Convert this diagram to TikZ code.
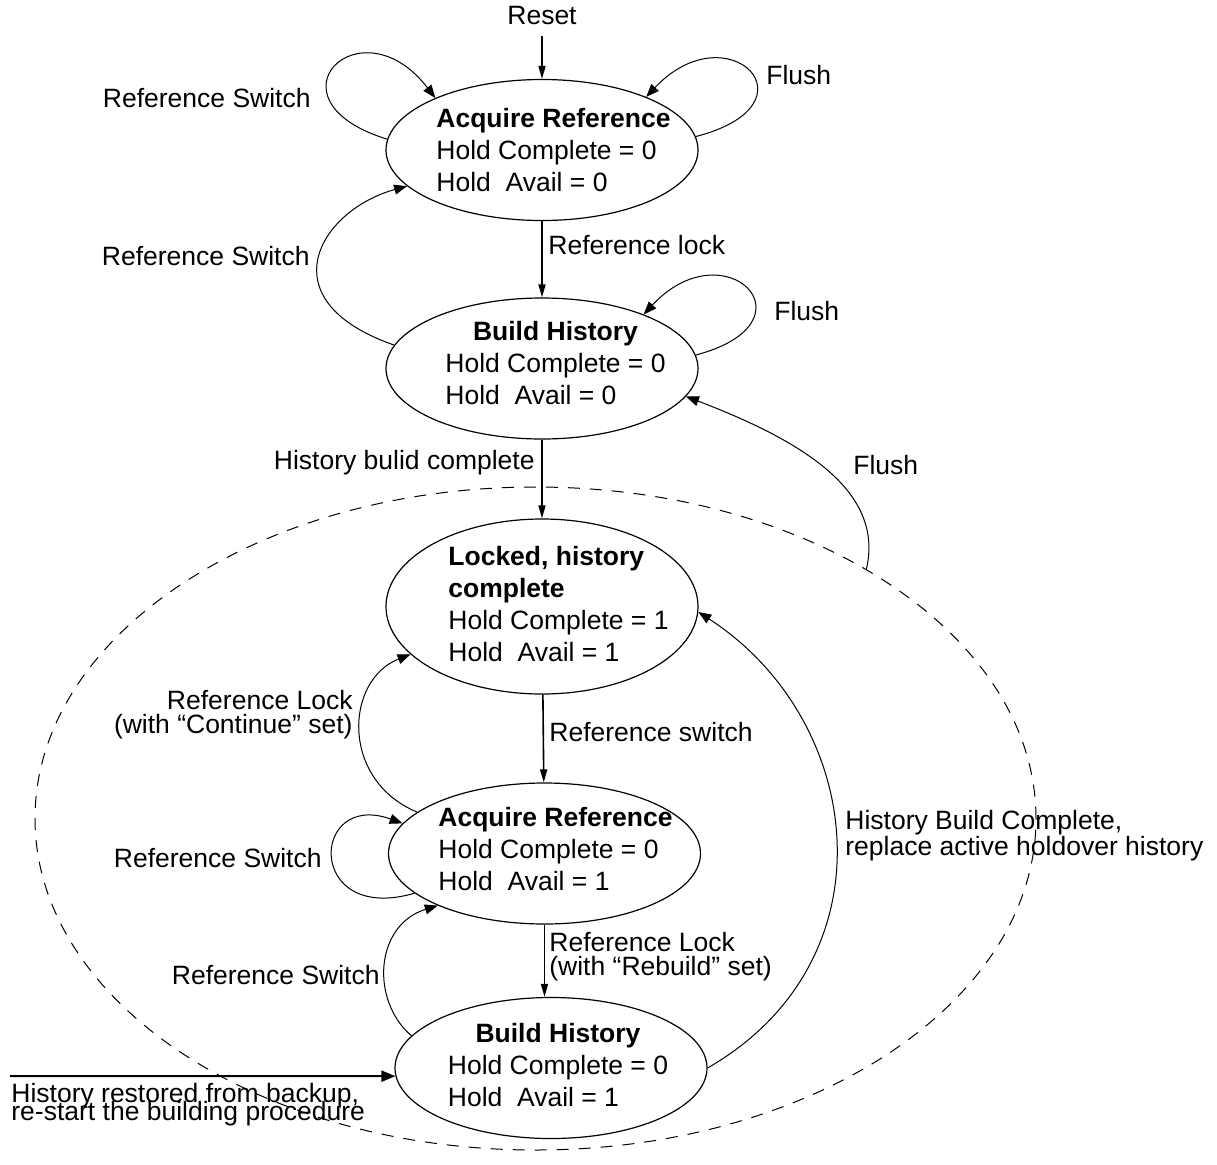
\documentclass[tikz,border=0pt]{standalone}
\usepackage{fontspec}
\setmainfont{Liberation Sans}
\usetikzlibrary{shapes.geometric,arrows.meta}

\newcommand{\tightlines}{\fontsize{13.25}{9}\selectfont\lineskiplimit=-20pt\relax}

\tikzset{
  state/.style={ellipse, draw, line width=0.6pt, minimum width=156pt, minimum height=70.5pt, inner sep=0pt},
  statetxt/.style={align=left, inner sep=0pt, font=\fontsize{13.25}{16}\selectfont},
  lbl/.style={inner sep=0pt, font=\fontsize{13.25}{16}\selectfont},
  zone/.style={ellipse, draw, line width=0.5pt, dash pattern=on 6pt off 5pt, minimum width=500.5pt, minimum height=331.5pt, inner sep=0pt},
  curvearr/.style={-{Triangle[length=6.5pt,width=5pt]}, line width=0.5pt},
  straightarr/.style={-{Triangle[length=6.5pt,width=3.5pt]}, line width=0.8pt},
  inarr/.style={-{Triangle[length=7pt,width=5.5pt]}, line width=1pt}
}

\begin{document}
\begin{tikzpicture}[x=0.5pt,y=-0.5pt]
\useasboundingbox (0,0) rectangle (1217,1164);

% dashed region round the holdover states
\node[zone] (zone) at (535.5,818.5) {};

% states
\node[state] (acqA) at (542,150) {};
\node[state] (build1) at (542,368.5) {};
\node[state, minimum height=87.5pt] (locked) at (542,606.5) {};
\node[state] (acq2) at (544.5,853.5) {};
\node[state] (build2) at (551,1068) {};

\node[statetxt] (acqAtxt) at (553.5,150) {\textbf{Acquire Reference}\\Hold Complete = 0\\Hold\ \ Avail = 0};
\node[statetxt] (build1txt) at (555.5,366) {\begin{tabular}{@{}l@{}}\multicolumn{1}{@{}c@{}}{\textbf{Build History}\hspace{6pt}}\\Hold Complete = 0\\Hold\ \ Avail = 0\end{tabular}};
\node[statetxt] (lockedtxt) at (558.5,604) {\textbf{Locked, history}\\\textbf{complete}\\Hold Complete = 1\\Hold\ \ Avail = 1};
\node[statetxt] (acq2txt) at (555.5,849) {\textbf{Acquire Reference}\\Hold Complete = 0\\Hold\ \ Avail = 1};
\node[statetxt] (build2txt) at (558,1068) {\begin{tabular}{@{}l@{}}\multicolumn{1}{@{}c@{}}{\textbf{Build History}\hspace{4pt}}\\Hold Complete = 0\\Hold\ \ Avail = 1\end{tabular}};

% labels
\node[lbl] (reset) at (542,16) {Reset};
\node[lbl, anchor=east] (swA) at (311,98) {Reference Switch};
\node[lbl, anchor=west] (flushA) at (766,75) {Flush};
\node[lbl, anchor=east] (swB) at (310,256) {Reference Switch};
\node[lbl, anchor=west] (lockA) at (548,245) {Reference lock};
\node[lbl, anchor=west] (flushB) at (774,311) {Flush};
\node[lbl, anchor=east] (histC) at (535,463) {History bulid complete};
\node[lbl, anchor=west] (flushC) at (853,465) {Flush};
\node[lbl, anchor=west] (swC) at (549,732) {Reference switch};
\node[lbl, anchor=east, align=right, font=\fontsize{13.25}{12}\selectfont] (contL) at (353,715) {Reference Lock\\(with “Continue” set)};
\node[lbl, anchor=east] (swD) at (322,858) {Reference Switch};
\node[lbl, anchor=east] (swE) at (380,975) {Reference Switch};
\node[lbl, anchor=west, align=left, font=\fontsize{13.25}{12}\selectfont] (rebuildL) at (549,957) {Reference Lock\\(with “Rebuild” set)};
\node[lbl, anchor=west, align=left, font=\fontsize{13.25}{13}\selectfont] (histB) at (845,836) {History Build Complete,\\replace active holdover history};
\node[lbl, anchor=north west, align=left, font=\tightlines] (restoredL) at (11,1083) {History restored from backup,\\re-start the building procedure};
\coordinate (restoredin) at (10,1076);

% straight transitions
\draw[straightarr, shorten <=5pt] (reset) -- (acqA);
\draw[straightarr] (acqA) -- (build1);
\draw[straightarr] (build1) -- (locked);
\draw[straightarr] (locked) -- (acq2);
\draw[straightarr] (acq2.south) -- (acq2.south |- build2.north);
\draw[inarr] (restoredin) -- (build2.183);

% curved transitions
\draw[curvearr] (acqA.176) .. controls (260,100) and (360,0) .. (acqA.154);
\draw[curvearr] (acqA.5) .. controls (822,104) and (728,10) .. (acqA.27);
\draw[curvearr] (build1.171) .. controls (265,300) and (320,210) .. (acqA.195);
\draw[curvearr] (build1.5) .. controls (820,322) and (725,227) .. (build1.28);
\draw[curvearr] (zone.37.9) .. controls (885,490) and (800,440) .. (build1.-11);
\draw[curvearr] (acq2.162) .. controls (340,780) and (345,680) .. (locked.200);
\draw[curvearr] (acq2.197) .. controls (305,925) and (310,790) .. (acq2.168);
\draw[curvearr] (build2.167) .. controls (370,1000) and (375,925) .. (acq2.206);
\draw[curvearr] (build2.0) .. controls (895,960) and (865,720) .. (locked.-2);
\end{tikzpicture}
\end{document}
